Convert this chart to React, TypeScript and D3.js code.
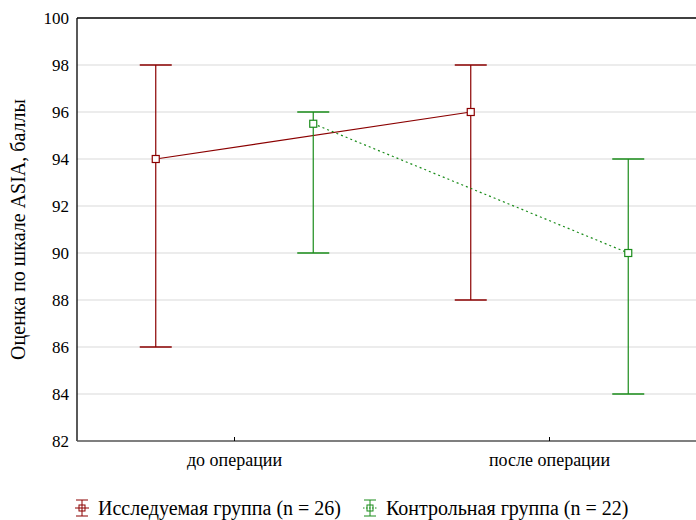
import React from "react";
import * as d3 from "d3";

const categories = ["до операции", "после операции"];
const seriesNames = ["Исследуемая группа (n = 26)", "Контрольная группа (n = 22)"];
const seriesColors = ["#8b0000", "#1a8c1a"];
// mean, low, high for each category
const studyMean = [94, 96];
const studyLow = [86, 88];
const studyHigh = [98, 98];
const controlMean = [95.5, 90];
const controlLow = [90, 84];
const controlHigh = [96, 94];
const yTicks = [82, 84, 86, 88, 90, 92, 94, 96, 98, 100];

const txt = (size: number) => ({ fontFamily: "Liberation Serif", fontSize: `${size}px` });

function App() {
  const width = 696;
  const height = 520;
  const margin = { top: 18, right: -11, bottom: 79, left: 77 };

  const x = d3.scaleBand().domain(categories).range([margin.left, width - margin.right]);
  const y = d3.scaleLinear().domain([82, 100]).range([height - margin.bottom, margin.top]);
  const off = x.bandwidth() / 4;
  const center = (c: string) => (x(c) as number) + x.bandwidth() / 2;

  const series = [
    { mean: studyMean, low: studyLow, high: studyHigh, dx: -off, dash: undefined },
    { mean: controlMean, low: controlLow, high: controlHigh, dx: off, dash: "2,3" },
  ];

  const legendX = [82, 370];
  const ly = 508;

  return (
    <svg
      width={width}
      height={height}
      style={{ position: "absolute", left: 0, top: 0, background: "#fff" }}
    >
      {/* grid */}
      {yTicks.filter((d) => d !== 82 && d !== 100).map((d) => (
        <line key={d} x1={margin.left} x2={width} y1={y(d)} y2={y(d)} stroke="#d9d9d9" />
      ))}
      {/* top border */}
      <line x1={margin.left} x2={width} y1={y(100)} y2={y(100)} stroke="#000" strokeWidth={1.3} />
      {/* y axis */}
      <line x1={margin.left} x2={margin.left} y1={y(100)} y2={y(82)} stroke="#000" strokeWidth={1.3} />
      {yTicks.map((d) => (
        <text key={d} x={margin.left - 8} y={y(d)} dy="0.35em" textAnchor="end" style={txt(17)} fill="#000">
          {d}
        </text>
      ))}
      {/* x axis */}
      <line x1={margin.left} x2={width} y1={y(82)} y2={y(82)} stroke="#555" strokeWidth={1.5} />
      {categories.map((c) => (
        <g key={c} transform={`translate(${center(c)},${y(82)})`}>
          <line y1={0} y2={-4} stroke="#000" />
          <text y={25} textAnchor="middle" style={txt(18)} fill="#000">{c}</text>
        </g>
      ))}
      {/* y label */}
      <text
        transform={`translate(25,${(y(82) + y(100)) / 2}) rotate(-90)`}
        textAnchor="middle"
        style={txt(20)}
        fill="#000"
      >
        Оценка по шкале ASIA, баллы
      </text>

      {series.map((s, si) => {
        const color = seriesColors[si];
        const cx = (i: number) => center(categories[i]) + s.dx;
        const line = d3.line<number>().x((_, i) => cx(i)).y((d) => y(d));
        return (
          <g key={si}>
            <path d={line(s.mean) || ""} fill="none" stroke={color} strokeWidth={1.2} strokeDasharray={s.dash} />
            {s.mean.map((m, i) => {
              const px = cx(i);
              return (
                <g key={i}>
                  <line x1={px} x2={px} y1={y(s.low[i])} y2={y(s.high[i])} stroke={color} strokeWidth={1.2} />
                  {[s.low[i], s.high[i]].map((v, k) => (
                    <line key={k} x1={px - 16} x2={px + 16} y1={y(v)} y2={y(v)} stroke={color} strokeWidth={1.3} />
                  ))}
                  <rect x={px - 3.5} y={y(m) - 3.5} width={7} height={7} fill="#fff" stroke={color} strokeWidth={1.2} />
                </g>
              );
            })}
          </g>
        );
      })}

      {/* legend */}
      {seriesNames.map((name, i) => {
        const color = seriesColors[i];
        return (
          <g key={name} transform={`translate(${legendX[i]},${ly})`}>
            <line x1={0} x2={0} y1={-8} y2={8} stroke={color} />
            <line x1={-6} x2={6} y1={-8} y2={-8} stroke={color} />
            <line x1={-6} x2={6} y1={8} y2={8} stroke={color} />
            <line x1={-7} x2={7} y1={0} y2={0} stroke={color} strokeDasharray={i === 1 ? "1.5,1.5" : undefined} />
            <rect x={-3} y={-3} width={6} height={6} fill="none" stroke={color} />
            <text x={16} y={7} style={txt(20)} fill="#000">{name}</text>
          </g>
        );
      })}
    </svg>
  );
}

export default App;
